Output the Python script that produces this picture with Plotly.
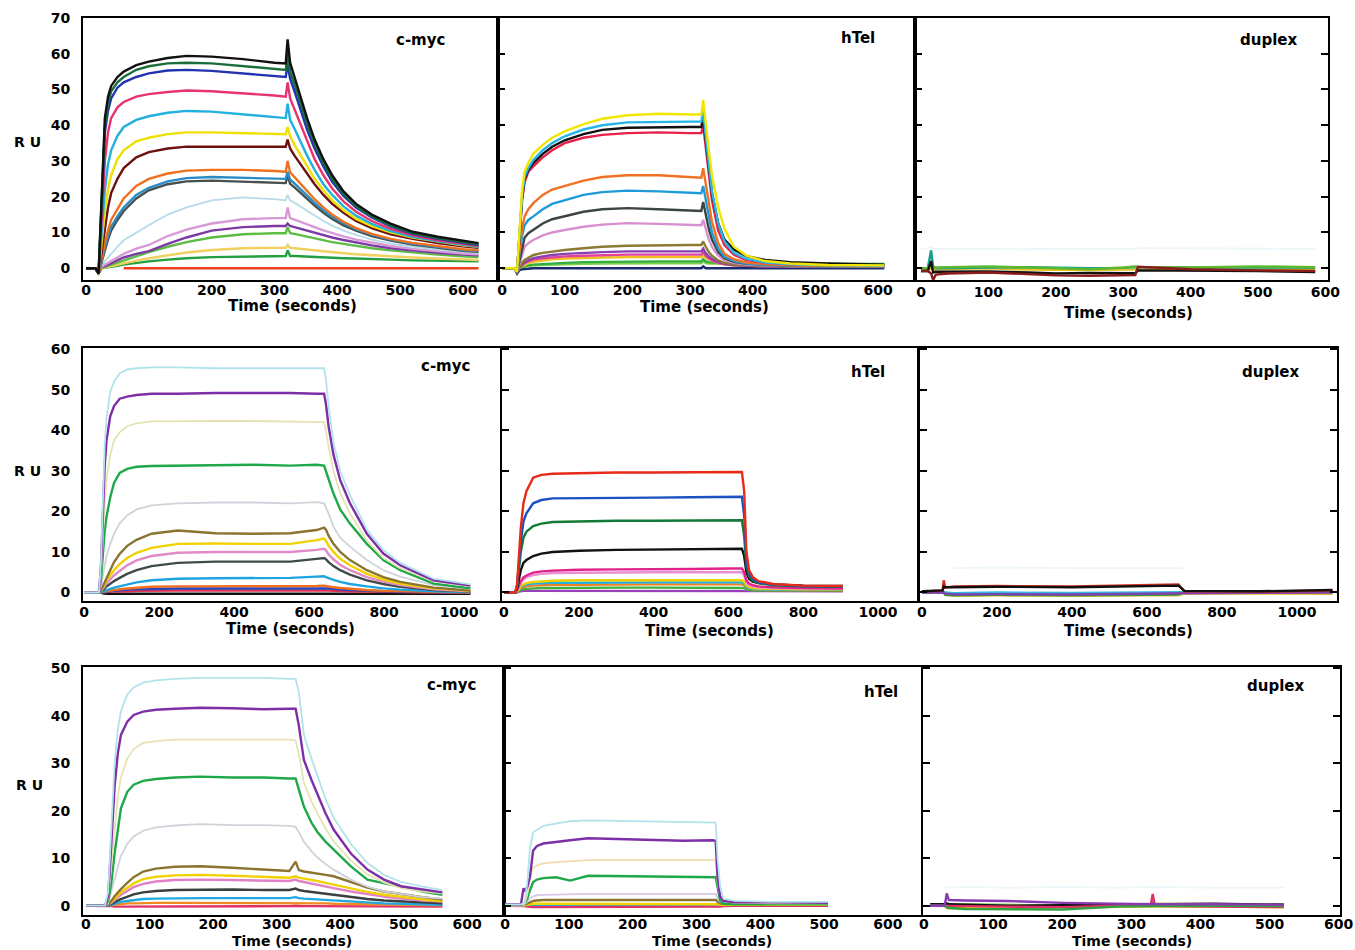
import plotly.graph_objects as go

W, H = 1355, 950

# ===================== Row 1 (top) =====================
R1_CMYC_T = [0, 15, 20, 25, 30, 35, 40, 50, 60, 80, 100, 130, 160, 200, 250, 300,
             318, 321, 325, 332, 342, 352, 364, 378, 392, 410, 430, 455, 485, 520, 560, 600, 625]
R1_CMYC_Y = [
    [0, 0, -1.5, 0, 0.1, 0.3, 0.4, 0.7, 1, 1.5, 1.9, 2.4, 2.8, 3.1, 3.3, 3.4] + [3.4, 5, 3.4, 3.4, 3.3, 3.2, 3.1, 3, 2.9, 2.8, 2.7, 2.5, 2.4, 2.2, 2.1, 2, 1.9],
    [0, 0, -1.5, 0, 0.2, 0.4, 0.6, 1, 1.4, 2.1, 2.8, 3.7, 4.4, 5.1, 5.6, 5.7] + [5.7, 6.5, 5.7, 5.6, 5.4, 5.2, 5, 4.7, 4.5, 4.2, 3.9, 3.6, 3.3, 3, 2.7, 2.4, 2.3],
    [0, 0, -1.5, 0.2, 0.4, 0.7, 1, 1.6, 2.2, 3.4, 4.5, 6, 7.3, 8.6, 9.5, 9.8] + [9.8, 11.5, 9.8, 9.6, 9.2, 8.8, 8.3, 7.8, 7.3, 6.8, 6.2, 5.6, 5, 4.4, 3.8, 3.3, 3.1],
    [0, 0, -1.5, 0.3, 0.6, 1, 1.5, 2.2, 3, 4, 4.8, 6.8, 8.6, 10.5, 11.5, 11.8] + [11.8, 12.5, 11.8, 11.5, 11, 10.5, 9.9, 9.2, 8.6, 7.9, 7.2, 6.4, 5.6, 4.9, 4.3, 3.8, 3.6],
    [0, 0, -1.5, 0.5, 1, 1.5, 2, 3, 4, 5.5, 6.5, 9, 10.8, 12.5, 13.7, 14] + [14, 17, 14, 13.6, 13, 12.3, 11.5, 10.6, 9.8, 8.9, 8, 7.1, 6.2, 5.4, 4.7, 4.1, 3.9],
    [0, 0, -1.5, 0.8, 2, 3, 4.2, 6, 7.8, 10, 12, 15, 17, 19, 19.8, 19.3] + [19, 20.5, 19, 18.3, 17.2, 16, 14.6, 13.2, 11.9, 10.5, 9.3, 8, 6.9, 6, 5.2, 4.5, 4.2],
    [0, 0, -1.5, 2, 5, 8, 10.5, 13.5, 16, 19.5, 21.8, 23.5, 24.3, 24.5, 24.2, 24] + [23.8, 26, 23.6, 22.6, 21, 19.3, 17.5, 15.5, 13.8, 12, 10.5, 9, 7.7, 6.6, 5.7, 4.9, 4.6],
    [0, 0, -1.5, 2.5, 6, 9, 11.5, 14.5, 17, 20.5, 22.5, 24.3, 25.2, 25.5, 25.3, 25] + [25, 27, 24.8, 23.7, 22, 20.2, 18.3, 16.2, 14.4, 12.6, 10.9, 9.4, 8, 6.9, 5.9, 5.1, 4.8],
    [0, 0, -1.5, 3, 7, 10.5, 13.5, 16.5, 19.5, 23, 25, 26.5, 27.3, 27.5, 27.5, 27.2] + [27, 30, 26.8, 25.5, 23.5, 21.5, 19.3, 17, 15, 13, 11.2, 9.6, 8.2, 7.1, 6.1, 5.3, 5],
    [0, 0, -1.5, 5, 12, 17, 21, 25, 28, 31, 32.5, 33.5, 34, 34, 34, 34] + [34, 36, 33.5, 31.5, 29, 26.5, 23.5, 20.5, 18, 15.5, 13.2, 11.2, 9.5, 8.2, 7, 6.1, 5.7],
    [0, 0, -1.5, 7, 16, 22, 26, 30.5, 33, 35.5, 36.5, 37.5, 38, 38, 37.8, 37.5] + [37.5, 39.5, 37, 34.5, 31.5, 28.5, 25, 21.8, 19, 16.2, 13.8, 11.8, 10, 8.6, 7.4, 6.4, 6],
    [0, 0, -1.5, 10, 22, 29, 33, 37, 39.5, 41.5, 42.5, 43.5, 44, 43.8, 43, 42.3] + [42, 46, 41.5, 39, 35, 31.5, 27.5, 23.5, 20.5, 17.3, 14.7, 12.4, 10.4, 8.8, 7.5, 6.5, 6],
    [0, 0, -1.5, 14, 30, 38, 42, 45, 46.5, 48, 48.7, 49.3, 49.7, 49.5, 49, 48.3] + [48, 52, 47.5, 44.5, 40, 35.5, 30.5, 26, 22.3, 18.7, 15.8, 13.2, 11, 9.2, 7.8, 6.8, 6.2],
    [0, 0, -1.5, 19, 38, 44, 47.5, 50.5, 52, 53.5, 54.5, 55.3, 55.5, 55.2, 54.5, 53.8] + [53.5, 57, 53, 49.5, 44, 38.8, 33.5, 28.5, 24.2, 20.2, 17, 14.2, 11.7, 9.6, 8.2, 7.2, 6.5],
    [0, 0, -1.5, 20, 40, 46, 49.5, 52, 53.5, 55.5, 56.5, 57.3, 57.5, 57.3, 56.5, 55.7] + [55.5, 60, 55, 51.5, 46, 40.5, 34.8, 29.5, 25, 20.8, 17.4, 14.5, 12, 9.8, 8.4, 7.4, 6.7],
    [0, 0, -1.5, 22, 42, 48, 51, 53.5, 55, 56.8, 57.8, 58.8, 59.4, 59.2, 58.5, 57.5] + [57.3, 64, 57.5, 53.5, 47.5, 42, 36, 30.5, 26, 21.5, 18, 15, 12.5, 10.2, 8.8, 7.8, 7],
    [None, None, None, None, None, None, None, None, 0, 0, 0, 0, 0, 0, 0, 0] + [0, 0, 0, 0, 0, 0, 0, 0, 0, 0, 0, 0, 0, 0, 0, 0, 0],
]
R1_CMYC_COLORS = ["#22a040", "#f0d060", "#5cbc44", "#7c3aa2", "#d89ad6", "#b6dbe8", "#46504e", "#2a8cc4",
                  "#f0701e", "#6e1010", "#eee000", "#22b0de", "#e8336b", "#2233b0", "#1b6e3c", "#111111", "#f0401e"]

R1_HTEL_T = [0, 20, 24, 28, 32, 36, 42, 50, 65, 80, 100, 130, 160, 200, 250, 300, 318, 321, 325, 330,
             335, 345, 355, 370, 390, 420, 460, 520, 610]
R1_HTEL_Y = [
    [0, 0, -1.5, -0.5, -0.3, -0.2, -0.1, 0, 0, 0, 0, 0, 0, 0, 0, 0, 0, 0.5, 0, 0, 0, 0, 0, 0, 0, 0, 0, 0, 0],
    [0, 0, -1, 0.1, 0.3, 0.5, 0.6, 0.8, 0.9, 1, 1.1, 1.2, 1.3, 1.4, 1.4, 1.4, 1.4, 2, 1.4, 1.3, 1.3, 1.2, 1.2, 1.1, 1.1, 1.1, 1.1, 1.1, 1.1],
    [0, 0, -1, 0.2, 0.4, 0.6, 0.8, 1, 1.2, 1.4, 1.5, 1.7, 1.8, 1.9, 1.9, 1.9, 1.9, 2.5, 1.9, 1.7, 1.6, 1.4, 1.3, 1.2, 1.2, 1.2, 1.2, 1.2, 1.2],
    [0, 0, -1, 0.2, 0.6, 1, 1.4, 1.8, 2.2, 2.5, 2.7, 2.9, 3, 3.1, 3.1, 3.1, 3.1, 3.8, 2.9, 2.4, 2, 1.4, 1.1, 0.8, 0.7, 0.6, 0.5, 0.5, 0.5],
    [0, 0, -1, 0.3, 0.8, 1.4, 1.9, 2.4, 2.8, 3.1, 3.3, 3.5, 3.7, 3.8, 3.8, 3.8, 3.8, 4.5, 3.5, 2.8, 2.2, 1.5, 1.1, 0.8, 0.6, 0.5, 0.4, 0.4, 0.4],
    [0, 0, -1, 0.3, 1, 1.7, 2.2, 2.8, 3.3, 3.7, 4, 4.3, 4.5, 4.7, 4.7, 4.7, 4.7, 5.5, 4.2, 3.3, 2.6, 1.8, 1.3, 0.9, 0.7, 0.5, 0.4, 0.4, 0.4],
    [0, 0, -1, 0.5, 1.5, 2.3, 3, 3.7, 4.3, 4.7, 5.1, 5.6, 6, 6.3, 6.5, 6.5, 6.5, 7.5, 6, 4.5, 3.5, 2.2, 1.5, 1, 0.8, 0.6, 0.5, 0.5, 0.4],
    [0, 0, -1, 1.5, 4, 6, 7, 7.9, 9.2, 10, 10.7, 11.6, 12.2, 12.6, 12.4, 12.1, 12, 13.5, 11, 8, 6, 3.5, 2.2, 1.5, 1, 0.8, 0.6, 0.5, 0.5],
    [0, 0, -1, 2.5, 6, 8.5, 9.8, 10.7, 12.5, 13.7, 14.5, 15.8, 16.5, 16.8, 16.5, 16, 16, 18.5, 15, 11, 8, 4.5, 2.8, 1.8, 1.2, 0.9, 0.7, 0.5, 0.5],
    [0, 0, -1, 4, 9, 12, 13.5, 14.5, 16.5, 18, 19, 20.5, 21.3, 21.7, 21.5, 21, 21, 23, 19, 14, 10, 5.5, 3.2, 2, 1.3, 0.9, 0.7, 0.5, 0.5],
    [0, 0, -1, 5, 11, 14.5, 16.5, 18.2, 20.5, 22, 23, 24.5, 25.5, 26, 26, 25.5, 25.3, 28, 24, 18, 13, 7, 4, 2.5, 1.6, 1.1, 0.8, 0.6, 0.5],
    [0, 0, -1, 8.5, 19, 24, 27, 28.5, 31, 33, 35, 36.5, 37.3, 37.8, 38, 37.8, 37.8, 40, 34, 26, 19, 10.5, 6.5, 3.8, 2.3, 1.5, 1.1, 0.9, 0.8],
    [0, 0, -1, 9, 19.5, 25, 27.5, 29.4, 32, 34, 35.8, 37.5, 38.7, 39.3, 39.5, 39.5, 39.5, 42, 36, 28.5, 21, 12.5, 8, 5.2, 3.4, 2.3, 1.7, 1.3, 1],
    [0, 0, -1, 9, 20, 25.5, 28, 30.3, 33, 35, 36.9, 38.8, 40, 40.8, 41, 41, 41, 44, 37, 29, 21.5, 12.5, 7.5, 4.3, 2.6, 1.6, 1.1, 0.8, 0.7],
    [0, 0, -1, 10, 22, 27, 29.5, 32, 34.5, 36.5, 38.3, 40.3, 41.8, 42.8, 43.2, 43, 43, 47, 40, 33, 26, 17, 11, 6, 3.5, 2, 1.3, 0.9, 0.8],
]
R1_HTEL_COLORS = ["#1a2a70", "#80d050", "#30b040", "#f0c020", "#e040a0", "#8a40b0", "#8c7a32", "#d88fd0",
                  "#3c4444", "#1e9bd7", "#f27022", "#e8204a", "#111111", "#26b5e6", "#f2e600"]

R1_DUP_T = [0, 10, 15, 18, 22, 40, 100, 160, 200, 250, 300, 318, 322, 400, 500, 585]
R1_DUP_Y = [
    [5.5, 5.5, 6, 5.5, 5.3, 5.5, 5.4, 5.3, 5.5, 5.4, 5.5, 5.4, 5.6, 5.5, 5.5, 5.4],
    [-0.5, -0.5, 0, -0.5, -0.3, -0.2, 0, -0.4, -0.5, -0.5, -0.4, -0.4, -0.2, -0.3, -0.2, -0.3],
    [0, 0, 5, 0.5, 0, 0, 0.2, 0.3, 0.2, 0, 0.1, 0.2, 0.3, 0.2, 0.3, 0.2],
    [0, 0, 1, 0, 0.2, 0.3, 0.5, 0.2, 0, -0.3, 0.2, 0.5, 0.3, 0.2, 0.5, 0.3],
    [-0.8, -0.8, 2, -1.2, -1, -1, -0.9, -1.2, -1.5, -1.3, -1.4, -1.4, -0.6, -0.6, -0.8, -1.1],
    [-0.8, -0.8, -1.5, -3.3, -1.8, -1.5, -1.2, -1.6, -2, -2.1, -1.8, -1.9, 0.4, -0.3, -0.6, -0.8],
]
R1_DUP_COLORS = ["#d6ecf4", "#e8c020", "#1aa08a", "#5cb82e", "#111111", "#8b1c1c"]

# ===================== Row 2 (middle) =====================
R2_CMYC_T = [0, 40, 45, 50, 55, 60, 70, 80, 95, 115, 140, 180, 250, 350, 450, 550, 620, 640, 645, 652,
             665, 683, 709, 754, 798, 843, 932, 1030]
R2_CMYC_Y = [
    [0, 0, 0, -0.2, -0.3, -0.3, -0.3, -0.3, -0.3, -0.3, -0.3, -0.3, -0.2, -0.3, -0.3, -0.2, -0.2, -0.2, -0.2, -0.2, -0.3, -0.3, -0.3, -0.3, -0.3, -0.3, -0.3, -0.3],
    [0, 0, 0, 0, 0.1, 0.1, 0.2, 0.2, 0.3, 0.3, 0.4, 0.5, 0.5, 0.5, 0.5, 0.5, 0.6, 0.6, 0.5, 0.5, 0.4, 0.4, 0.3, 0.2, 0.1, 0.1, 0, 0],
    [0, 0, 0, 0.1, 0.1, 0.2, 0.3, 0.4, 0.5, 0.7, 0.8, 0.9, 1, 1, 1, 1, 1.1, 1.1, 1, 1, 0.9, 0.7, 0.6, 0.4, 0.3, 0.2, 0.1, 0],
    [0, 0, 0, 0.1, 0.2, 0.3, 0.4, 0.6, 0.8, 1, 1.2, 1.4, 1.5, 1.5, 1.5, 1.5, 1.6, 1.7, 1.6, 1.5, 1.3, 1.1, 0.9, 0.6, 0.4, 0.3, 0.1, 0],
    [0, 0, 0, 0.2, 0.4, 0.6, 0.9, 1.2, 1.5, 2, 2.5, 3, 3.4, 3.5, 3.6, 3.6, 3.9, 4, 3.8, 3.5, 3.1, 2.6, 2.1, 1.5, 1, 0.7, 0.3, 0.1],
    [0, 0, 0.2, 0.5, 1, 1.5, 2.2, 2.8, 3.6, 4.6, 5.5, 6.5, 7.3, 7.6, 7.6, 7.6, 8.3, 8.5, 8.2, 7.5, 6.5, 5.5, 4.4, 3, 2.1, 1.4, 0.6, 0.2],
    [0, 0, 0.3, 0.8, 1.5, 2.3, 3.3, 4.2, 5.3, 6.7, 7.9, 9, 9.8, 10, 10, 10, 10.5, 10.8, 10.4, 9.4, 8.2, 6.8, 5.5, 3.8, 2.7, 1.8, 0.8, 0.3],
    [0, 0, 0.3, 1, 2, 3, 4.3, 5.5, 7, 8.5, 9.8, 11, 12, 12.1, 12, 12, 12.9, 13.3, 12.8, 11.5, 10, 8.3, 6.7, 4.6, 3.2, 2.2, 1, 0.4],
    [0, 0, 0.5, 1.5, 2.8, 3.9, 5.8, 7.5, 9.5, 11.5, 13, 14.5, 15.3, 14.6, 14.5, 14.6, 15.4, 16, 15.5, 14, 12, 10, 8, 5.5, 3.8, 2.6, 1.2, 0.5],
    [0, 0, 1.5, 4, 6.5, 9, 12, 14.5, 17, 19, 20.5, 21.5, 22, 22.2, 22.2, 22, 22.3, 22, 21, 19.5, 16.2, 13.5, 11.3, 8, 5.5, 3.9, 1.8, 0.9],
    [0, 0, 3, 10, 15, 18.7, 23.5, 27, 29.5, 30.5, 31, 31.2, 31.3, 31.4, 31.5, 31.3, 31.5, 31.3, 30, 27.7, 24.4, 20.5, 17, 12, 8, 5.5, 2.2, 1],
    [0, 0, 4, 14, 22, 28, 34, 37.5, 39.5, 41, 41.7, 42.2, 42.3, 42.3, 42.3, 42.2, 42, 42, 40, 36, 30, 24.5, 19.5, 12.8, 8.5, 6, 2.8, 1.6],
    [0, 0, 6, 21, 31, 37.5, 43.5, 46, 47.8, 48.3, 48.7, 49, 49, 49.2, 49.2, 49.2, 49, 49, 46.5, 41, 34, 27.7, 22, 14.5, 9.6, 6.7, 3, 1.7],
    [0, 0, 7, 24, 36, 43, 49.5, 52, 54, 55, 55.3, 55.5, 55.5, 55.3, 55.3, 55.3, 55.3, 55.3, 52.5, 46, 37, 30, 24, 15.5, 10.5, 7.3, 3.4, 2],
]
R2_CMYC_COLORS = ["#111111", "#e03050", "#2446c0", "#f07020", "#1ea4e0", "#404a4a", "#e08ac8", "#f2d100",
                  "#8a7430", "#cfd3da", "#1fa84a", "#e6e2b4", "#7e2fa8", "#b2e2ea"]

R2_HTEL_T = [0, 30, 35, 40, 45, 52, 60, 78, 100, 130, 200, 300, 400, 500, 600, 636, 642, 648, 655, 665,
             680, 720, 800, 906]
R2_HTEL_Y = [
    [0, 0, 0, 0.2, 0.3, 0.4, 0.4, 0.4, 0.4, 0.4, 0.4, 0.4, 0.4, 0.4, 0.4, 0.4, 0.4, 0.3, 0.3, 0.3, 0.3, 0.3, 0.3, 0.3],
    [0, 0, 0.1, 0.4, 0.6, 0.8, 0.9, 1, 1.1, 1.1, 1.2, 1.2, 1.2, 1.2, 1.2, 1.2, 1.1, 0.8, 0.6, 0.5, 0.5, 0.5, 0.5, 0.5],
    [0, 0, 0.2, 0.6, 1, 1.3, 1.5, 1.7, 1.8, 1.9, 1.9, 2, 2, 2, 2, 2, 1.8, 1.3, 1, 0.8, 0.7, 0.6, 0.6, 0.6],
    [0, 0, 0.3, 0.8, 1.3, 1.7, 2, 2.2, 2.3, 2.4, 2.4, 2.5, 2.5, 2.5, 2.5, 2.5, 2.2, 1.5, 1.1, 0.9, 0.8, 0.7, 0.7, 0.7],
    [0, 0, 0.3, 1, 1.6, 2, 2.3, 2.6, 2.8, 2.9, 3, 3, 3, 3, 3, 3, 2.6, 1.8, 1.3, 1.1, 1, 0.9, 0.8, 0.8],
    [0, 0, 0.5, 1.5, 2.4, 3.2, 3.7, 4.3, 4.6, 4.8, 4.9, 5, 5, 5, 5, 5, 4.2, 2.5, 1.8, 1.5, 1.3, 1.1, 1, 1],
    [0, 0, 0.6, 1.8, 2.8, 3.7, 4.2, 4.9, 5.2, 5.4, 5.6, 5.7, 5.7, 5.8, 5.9, 5.9, 5, 3, 2.2, 1.8, 1.5, 1.3, 1.1, 1],
    [0, 0, 1, 3.5, 5.5, 7.3, 8, 9, 9.6, 10, 10.3, 10.5, 10.6, 10.6, 10.7, 10.8, 9, 5, 3.4, 2.7, 2.3, 2, 1.7, 1.6],
    [0, 0, 1.5, 6, 10, 13.5, 15, 16.4, 17, 17.4, 17.6, 17.7, 17.7, 17.8, 17.8, 17.8, 14, 6.5, 4, 2.9, 2.3, 1.8, 1.5, 1.4],
    [0, 0, 1.8, 8, 12.5, 17.5, 19.5, 22, 22.8, 23.2, 23.3, 23.4, 23.4, 23.5, 23.5, 23.6, 19, 8, 4.6, 3.3, 2.5, 2, 1.6, 1.5],
    [0, 0, 2, 10, 16, 22, 25, 28.3, 29, 29.3, 29.5, 29.6, 29.6, 29.7, 29.7, 29.7, 25, 10, 5.5, 3.8, 2.8, 2.1, 1.7, 1.6],
]
R2_HTEL_COLORS = ["#9a40b8", "#40b040", "#f08020", "#22b0e0", "#f0d000", "#e890d0", "#e0228a", "#111111",
                  "#127a36", "#1a52c2", "#e82a18"]

R2_DUP_T = [0, 55, 58, 62, 85, 200, 400, 600, 684, 700, 900, 1095]
R2_DUP_Y = [
    [None, None, None, None, 6, 6.2, 6, 6.1, 6, 5.8, None, None],
    [0, 0, 0, -0.6, -0.8, -0.7, -0.8, -0.7, -0.7, -0.2, -0.3, -0.3],
    [0, 0, 0, 0, -0.2, 0, -0.1, 0, 0, 0.1, 0.2, 0.1],
    [0, 0, 0, -0.6, -0.7, -0.6, -0.7, -0.6, -0.5, 0.2, 0.3, 0.2],
    [0, 0, 0, -0.3, -0.5, -0.4, -0.5, -0.3, -0.3, -0.2, -0.1, 0],
    [0.2, 0.5, 3, 1.2, 1.5, 1.6, 1.5, 1.8, 2, 0.3, 0.2, 0.5],
    [0.3, 0.5, 1.5, 1.3, 1.3, 1.4, 1.3, 1.5, 1.7, 0.4, 0.3, 0.6],
]
R2_DUP_COLORS = ["#d6ecf4", "#e8c020", "#30b8e0", "#30a040", "#8040b0", "#d03020", "#111111"]

# ===================== Row 3 (bottom) =====================
R3_CMYC_T = [0, 30, 35, 40, 45, 50, 55, 65, 75, 90, 110, 140, 180, 230, 280, 320, 330, 335, 343, 355,
             364, 377, 390, 417, 443, 469, 496, 530, 561]
R3_CMYC_Y = [
    [0, 0, 0, -0.1, -0.2, -0.2, -0.2, -0.2, -0.2, -0.2, -0.1, -0.1, -0.1, -0.1, -0.1, -0.1, 0, -0.1, -0.1, -0.1, -0.1, -0.1, -0.1, -0.1, -0.2, -0.2, -0.2, -0.2, -0.2],
    [0, 0, 0, 0.1, 0.2, 0.3, 0.4, 0.5, 0.5, 0.6, 0.6, 0.6, 0.6, 0.6, 0.6, 0.6, 0.6, 0.6, 0.6, 0.5, 0.5, 0.5, 0.4, 0.4, 0.3, 0.3, 0.2, 0.2, 0.1],
    [0, 0, 0, 0.2, 0.4, 0.6, 0.8, 1, 1.2, 1.4, 1.5, 1.6, 1.6, 1.6, 1.6, 1.6, 1.8, 1.6, 1.5, 1.4, 1.3, 1.2, 1.1, 0.9, 0.7, 0.5, 0.4, 0.3, 0.2],
    [0, 0, 0.1, 0.4, 0.8, 1.1, 1.4, 1.9, 2.4, 2.8, 3.1, 3.3, 3.4, 3.4, 3.3, 3.3, 3.6, 3.3, 3.1, 2.9, 2.7, 2.4, 2.2, 1.8, 1.4, 1.1, 0.9, 0.6, 0.5],
    [0, 0, 0.2, 0.6, 1.2, 1.8, 2.3, 3.1, 3.9, 4.6, 5.1, 5.4, 5.5, 5.4, 5.3, 5.2, 5.5, 5.2, 5, 4.7, 4.5, 4.1, 3.7, 3, 2.4, 1.9, 1.5, 1.1, 0.9],
    [0, 0, 0.3, 0.8, 1.5, 2.2, 2.8, 3.8, 4.7, 5.6, 6.1, 6.4, 6.5, 6.3, 6.1, 5.9, 6.2, 5.9, 5.7, 5.5, 5.2, 4.8, 4.4, 3.6, 2.9, 2.3, 1.8, 1.3, 1],
    [0, 0, 0.3, 1, 2, 2.8, 3.5, 4.8, 6, 7.2, 7.8, 8.2, 8.3, 8, 7.6, 7.3, 9.3, 7.5, 7.2, 7, 6.8, 6.5, 6.2, 5, 3.8, 3, 2.4, 1.8, 1.3],
    [0, 0, 0.5, 3, 6, 8.5, 10.5, 13, 14.6, 15.8, 16.5, 16.9, 17.2, 17, 17, 16.8, 16.6, 15.5, 13.5, 11.5, 10.2, 8.8, 7.6, 5.5, 4, 3, 2.4, 1.8, 1.5],
    [0, 0, 1, 5, 11, 16, 20.5, 24, 25.5, 26.3, 26.7, 27, 27.2, 27, 27, 26.8, 26.8, 24.5, 20.9, 17.5, 15.6, 13.5, 11.8, 8.3, 5.5, 4.7, 4, 3, 2.3],
    [0, 0, 1.5, 9, 17, 23, 27, 31, 33, 34.3, 34.7, 35, 35, 35, 35, 35, 34.8, 32, 26, 22, 19.5, 16.3, 13.5, 9.5, 6.6, 4.9, 3.7, 3, 2.6],
    [0, 0, 2, 14, 25, 32, 36, 38.8, 40.2, 40.9, 41.3, 41.5, 41.7, 41.6, 41.4, 41.5, 41.5, 38, 30.7, 26.5, 23.7, 19.5, 16, 11, 7.6, 5.5, 4.1, 3.4, 2.8],
    [0, 0, 3, 18, 30, 37, 41, 44.5, 46, 47, 47.5, 47.8, 48, 48, 48, 47.8, 47.8, 45, 36, 31, 27.5, 22.5, 18.5, 13, 9, 6.5, 5, 4, 3.3],
]
R3_CMYC_COLORS = ["#e03068", "#f08a20", "#22a8e0", "#3a3f40", "#e080c8", "#f2d100", "#8a7430", "#cfd3da",
                  "#1fa84a", "#e6e2b4", "#7e2fa8", "#b2e2ea"]

R3_HTEL_T = [0, 25, 29, 31, 35, 39, 44, 50, 60, 80, 102, 130, 200, 280, 325, 330, 333, 337, 342, 360, 420, 506]
R3_HTEL_Y = [
    [0, 0, 0, 0, 0.1, 0.1, 0.2, 0.2, 0.2, 0.2, 0.2, 0.2, 0.2, 0.2, 0.2, 0.2, 0.2, 0.1, 0.1, 0.1, 0.1, 0.1],
    [0, 0, 0, -0.1, -0.2, -0.3, -0.3, -0.3, -0.3, -0.3, -0.3, -0.3, -0.3, -0.3, -0.3, -0.3, -0.2, -0.2, -0.1, 0, 0, 0],
    [0, 0, 0, 0.1, 0.2, 0.3, 0.4, 0.4, 0.4, 0.4, 0.4, 0.4, 0.4, 0.4, 0.4, 0.4, 0.3, 0.2, 0.2, 0.2, 0.2, 0.2],
    [0, 0, 0, 0.2, 0.5, 0.8, 1, 1.1, 1.2, 1.2, 1.2, 1.3, 1.2, 1.2, 1.2, 1.2, 0.8, 0.5, 0.4, 0.4, 0.4, 0.4],
    [0, 0, 0, 0.3, 1, 1.5, 2, 2.2, 2.3, 2.4, 2.5, 2.5, 2.5, 2.5, 2.5, 2.5, 1.5, 0.8, 0.5, 0.5, 0.5, 0.5],
    [0.2, 0.2, 0.3, 0.5, 1.5, 3.2, 5, 5.5, 5.8, 6, 5.3, 6.3, 6.2, 6, 6, 6, 4, 1, 0.4, 0.3, 0.3, 0.3],
    [0.2, 0.2, 0.3, 0.5, 2.5, 6, 8, 8.5, 8.9, 9.2, 9.4, 9.6, 9.6, 9.6, 9.6, 9.6, 5, 2, 1, 0.6, 0.5, 0.5],
    [0.3, 0.3, 3.7, 3, 4, 6, 11.6, 12.6, 13.1, 13.5, 13.8, 14.2, 14, 13.7, 13.8, 13.7, 6, 2, 1, 0.7, 0.7, 0.6],
    [0.3, 0.3, 0.5, 1, 5, 12, 15.4, 16, 16.8, 17.3, 17.8, 18, 17.8, 17.6, 17.5, 17.5, 10, 4, 1.5, 1, 0.8, 0.8],
]
R3_HTEL_COLORS = ["#22a8e0", "#e03068", "#f2d100", "#8a7430", "#d8c8e8", "#1fa84a", "#f0dcb0", "#7e2fa8", "#b2e2ea"]

R3_DUP_T = [9, 30, 33, 36, 60, 120, 200, 280, 328, 331, 334, 420, 521]
R3_DUP_Y = [
    [None, 3.8, 3.9, 3.8, 3.9, 3.8, 3.9, 3.8, 3.9, 3.8, 3.9, 3.8, 3.8],
    [0, 0, -0.5, -0.5, -0.5, -0.4, -0.3, -0.2, -0.2, -0.2, -0.2, -0.2, -0.3],
    [0, 0, 0, 0.2, 0.3, 0.2, 0, 0.2, 0.3, 0.3, 0.4, 0.3, 0.2],
    [0.3, 0.3, 0.5, 0.3, 0.2, 0, 0.1, 0.2, 0.3, 0.3, 0.3, 0.4, 0.2],
    [0, 0, 0, 0, -0.1, -0.2, -0.3, 0, 0, 2.5, 0, -0.2, -0.3],
    [0, 0, -0.3, -0.5, -0.7, -0.8, -0.8, -0.2, -0.1, 0, -0.1, 0, -0.1],
    [0, 0, 2.6, 1.2, 1.1, 1, 0.6, 0.4, 0.3, 0.5, 0.3, 0.3, 0.2],
]
R3_DUP_COLORS = ["#d6ecf4", "#e8c020", "#90d060", "#111111", "#e03068", "#30a040", "#8a3ab0"]

# tick values
X_TICKS_600 = [0, 100, 200, 300, 400, 500, 600]
X_TICKS_1000 = [0, 200, 400, 600, 800, 1000]
Y_TICKS_R1 = [0, 10, 20, 30, 40, 50, 60, 70]
Y_TICKS_R2 = [0, 10, 20, 30, 40, 50, 60]
Y_TICKS_R3 = [0, 10, 20, 30, 40, 50]

PALE = {"#d6ecf4", "#b2e2ea", "#e6e2b4", "#cfd3da", "#b6dbe8", "#f0dcb0", "#d8c8e8"}

# panel layout in window pixels: (T, Ys, colors, xdom, ydom, xrange, yrange, xticks, yticks, col, label, label_xy, title_xy, x-label standoff, title size)
PANELS = [
    (R1_CMYC_T, R1_CMYC_Y, R1_CMYC_COLORS, (83, 498), (18, 280), (-4.8, 656), (-3.3, 70), X_TICKS_600, Y_TICKS_R1, 1, "c-myc", (420, 40), (292, 306), -4, 15),
    (R1_HTEL_T, R1_HTEL_Y, R1_HTEL_COLORS, (498, 915), (18, 280), (-6.4, 659), (-3.3, 70), X_TICKS_600, Y_TICKS_R1, 2, "hTel", (858, 38), (705, 307), -4, 15),
    (R1_DUP_T, R1_DUP_Y, R1_DUP_COLORS, (915, 1328), (18, 280), (-8.9, 604), (-3.3, 70), X_TICKS_600, Y_TICKS_R1, 3, "duplex", (1268, 40), (1128, 313), -2, 15),
    (R2_CMYC_T, R2_CMYC_Y, R2_CMYC_COLORS, (83, 500), (348, 601), (-2.7, 1109), (-2.1, 60.3), X_TICKS_1000, Y_TICKS_R2, 1, "c-myc", (445, 366), (290, 629), -3, 15),
    (R2_HTEL_T, R2_HTEL_Y, R2_HTEL_COLORS, (502, 917), (348, 601), (-5.3, 1104), (-2.1, 60.3), X_TICKS_1000, Y_TICKS_R2, 2, "hTel", (868, 372), (709, 631), -3, 15),
    (R2_DUP_T, R2_DUP_Y, R2_DUP_COLORS, (920, 1337), (348, 601), (-5.3, 1107), (-2.1, 60.3), X_TICKS_1000, Y_TICKS_R2, 3, "duplex", (1270, 372), (1128, 631), -3, 15),
    (R3_CMYC_T, R3_CMYC_Y, R3_CMYC_COLORS, (83, 504), (667, 915), (-4.7, 658), (-1.96, 50.3), X_TICKS_600, Y_TICKS_R3, 1, "c-myc", (452, 685), (292, 941), -5, 14),
    (R3_HTEL_T, R3_HTEL_Y, R3_HTEL_COLORS, (504, 925), (667, 915), (-1.6, 658), (-1.96, 50.3), X_TICKS_600, Y_TICKS_R3, 2, "hTel", (881, 692), (712, 941), -5, 14),
    (R3_DUP_T, R3_DUP_Y, R3_DUP_COLORS, (923, 1340), (667, 915), (-1.4, 602), (-1.96, 50.3), X_TICKS_600, Y_TICKS_R3, 3, "duplex", (1275, 686), (1132, 941), -5, 14),
]
RU_POS = [(27, 142), (27, 471), (30, 785)]


def fx(p):
    return p / W


def fy(p):
    return 1 - p / H


FONT = "DejaVu Sans"
fig = go.Figure()
layout = dict(
    width=W, height=H, margin=dict(l=0, r=0, t=0, b=0, autoexpand=False),
    paper_bgcolor="white", plot_bgcolor="white", showlegend=False,
)
annotations = []

for i, (T, Ys, colors, xd, yd, xr, yr, xt, yt, col, label, lxy, txy, xso, tsz) in enumerate(PANELS, start=1):
    sfx = "" if i == 1 else str(i)
    for ys, c in zip(Ys, colors):
        assert len(ys) == len(T), (i, c, len(ys), len(T))
        pale = c in PALE
        fig.add_trace(go.Scatter(
            x=T, y=ys, mode="lines", xaxis="x" + sfx, yaxis="y" + sfx,
            line=dict(color=c, width=1.8 if pale else 2.4),
            opacity=0.45 if c == "#d6ecf4" else 1.0,
            hoverinfo="skip", connectgaps=False,
        ))
    layout["xaxis" + sfx] = dict(
        domain=[fx(xd[0]), fx(xd[1])], range=list(xr), anchor="y" + sfx,
        tickmode="array", tickvals=xt, showgrid=False, zeroline=False,
        showline=True, linecolor="black", linewidth=2, mirror=True, ticks="",
        tickfont=dict(family=FONT, size=14, color="black", weight="bold"),
        ticklabeloverflow="allow", ticklabelstandoff=xso,
    )
    ydict = dict(
        domain=[fy(yd[1]), fy(yd[0])], range=list(yr), anchor="x" + sfx,
        tickmode="array", tickvals=yt, showgrid=False, zeroline=False,
        showline=True, linecolor="black", linewidth=2,
        tickfont=dict(family=FONT, size=14, color="black", weight="bold"),
    )
    if col == 1:
        ydict.update(mirror=True, ticks="", showticklabels=True, ticklabelstandoff=8)
    elif col == 2:
        ydict.update(mirror=True, ticks="inside", ticklen=7, tickwidth=2, tickcolor="black", showticklabels=False)
    else:
        ydict.update(mirror="ticks", ticks="inside", ticklen=7, tickwidth=2, tickcolor="black", showticklabels=False)
    layout["yaxis" + sfx] = ydict
    annotations.append(dict(
        x=fx(lxy[0]), y=fy(lxy[1]), xref="paper", yref="paper", text=label, showarrow=False,
        xanchor="center", yanchor="middle", font=dict(family=FONT, size=15, color="black", weight="bold"),
    ))
    annotations.append(dict(
        x=fx(txy[0]), y=fy(txy[1]), xref="paper", yref="paper", text="Time (seconds)", showarrow=False,
        xanchor="center", yanchor="middle", font=dict(family=FONT, size=tsz, color="black", weight="bold"),
    ))

for (px, py) in RU_POS:
    annotations.append(dict(
        x=fx(px), y=fy(py), xref="paper", yref="paper", text="R U", showarrow=False,
        xanchor="center", yanchor="middle", font=dict(family=FONT, size=14, color="black", weight="bold"),
    ))

layout["annotations"] = annotations
fig.update_layout(**layout)
fig.write_html(
    "out.html",
    config={"displayModeBar": False},
    post_script="document.body.style.margin='0';document.body.style.overflow='hidden';",
)
